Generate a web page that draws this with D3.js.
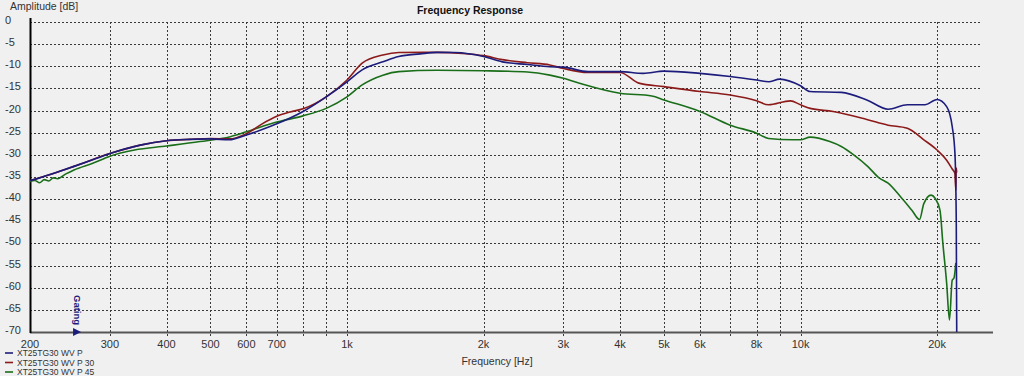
<!DOCTYPE html>
<html>
<head>
<meta charset="utf-8">
<script src="https://cdn.jsdelivr.net/npm/d3@7"></script>
<style>
body{margin:0;background:#f0f0f0;font-family:"Liberation Sans",Arial,sans-serif;}
svg{display:block}
</style>
</head>
<body>
<div id="container"></div>
<script>
// measured curves (Hz / dB)
var blueHz = [200,210,225,250,275,300,350,400,450,500,550,600,650,700,800,900,1000,1080,1200,1300,1450,1580,1730,2000,2200,2500,2800,3000,3400,4000,4500,5000,6000,7000,8000,8500,9000,10000,10500,12300,14000,15600,17200,18800,20000,21000,21600,21900,22050,22100]
var blueDb = [-35.8,-35.2,-34.2,-32.6,-31.1,-29.7,-27.8,-26.8,-26.5,-26.4,-26.6,-25.5,-24.3,-23,-20.2,-16.9,-13.5,-10.8,-9,-7.8,-7.2,-6.85,-6.9,-7.8,-9,-9.6,-10.1,-10.2,-11.2,-11.2,-11.6,-11.1,-11.6,-12.3,-13.1,-13.5,-12.9,-14.4,-15.7,-15.9,-17.6,-19.7,-18.7,-18.7,-17.5,-19.1,-23.6,-29.6,-45,-70]

var redHz = [200,225,250,300,350,400,450,500,550,600,650,700,750,800,900,1000,1080,1200,1300,1580,1800,2000,2200,2500,2800,3000,3400,4000,4400,5000,6000,7000,8000,8500,9500,10000,10500,11800,14000,15600,17200,18700,20000,21000,21600,21900,22000,22050,22100]
var redDb = [-35.8,-34.2,-32.6,-29.7,-27.8,-26.8,-26.5,-26.3,-26.4,-25.2,-23,-21.3,-20.3,-19.6,-16.9,-13.1,-9.3,-7.45,-6.9,-6.85,-7.1,-7.6,-8.5,-9.2,-9.7,-10.5,-11.4,-11.4,-13.8,-14.6,-15.7,-16.5,-17.8,-18.7,-17.8,-18.7,-19.5,-20.2,-22,-23.3,-24,-26.6,-28.9,-31.2,-33.2,-34.2,-38,-33,-34]

var greenHz = [200,205,210,215,220,225,230,240,250,275,300,340,400,474,553,600,700,800,900,1000,1080,1200,1300,1580,2000,2500,2800,3000,3300,4000,4700,5000,6000,7000,8000,8500,9600,10000,10500,11600,12300,13100,14100,14900,15600,16600,17600,18300,18700,19400,19800,20300,20600,21000,21300,21600,21800,22000]
var greenDb = [-36,-35.8,-36.3,-35.6,-35.9,-35.2,-35.4,-34.3,-33.4,-31.9,-30.3,-28.9,-28,-27,-25.9,-24.8,-22.6,-21.2,-19.5,-16.9,-14.2,-12,-11.2,-10.9,-11,-11.3,-12,-12.7,-14,-16.1,-16.7,-17.6,-20.2,-23.3,-25.1,-26.3,-26.6,-26.6,-26,-27,-28.1,-30,-32.7,-35.2,-36.4,-39.4,-42.5,-44.6,-41,-39.1,-39.8,-42.5,-50,-59,-67.3,-58.3,-57.8,-54.4]

var seriesNames = ["XT25TG30 WV P","XT25TG30 WV P 30","XT25TG30 WV P 45"]
var seriesColors = ["#1c1c7c","#8c1a1a","#1a6e1a"]

var yTicks = [0,-5,-10,-15,-20,-25,-30,-35,-40,-45,-50,-55,-60,-65,-70]
var xGrid = [300,400,500,600,700,800,900,1000,2000,3000,4000,5000,6000,7000,8000,9000,10000,20000]
var xLabels = {200:"200",300:"300",400:"400",500:"500",600:"600",700:"700",1000:"1k",2000:"2k",3000:"3k",4000:"4k",5000:"5k",6000:"6k",8000:"8k",10000:"10k",20000:"20k"}
var gatingHz = 254

var svg = d3.select("#container").append("svg").attr("width",1024).attr("height",376)

var xScale = d3.scaleLog().domain([200,25000]).range([30,981])
var yScale = d3.scaleLinear().domain([-70,0]).range([332,22])

// horizontal grid
svg.selectAll(".hgrid")
  .data(yTicks.filter(function(d){return d>-70}))
  .enter().append("line")
  .attr("x1",30).attr("x2",980)
  .attr("y1",function(d){return Math.round(yScale(d))+0.5})
  .attr("y2",function(d){return Math.round(yScale(d))+0.5})
  .attr("stroke","#3a3a3a").attr("stroke-dasharray","2,2")

// vertical grid
svg.selectAll(".vgrid")
  .data(xGrid)
  .enter().append("line")
  .attr("x1",function(d){return Math.round(xScale(d))+0.5})
  .attr("x2",function(d){return Math.round(xScale(d))+0.5})
  .attr("y1",22).attr("y2",338)
  .attr("stroke","#3a3a3a").attr("stroke-dasharray","2,2")

// y labels
svg.selectAll(".ylab")
  .data(yTicks)
  .enter().append("text")
  .attr("x",5).attr("y",function(d){return yScale(d)+2})
  .attr("font-size","11px").attr("fill","#333")
  .text(function(d){return d})

// x labels
svg.selectAll(".xlab")
  .data(Object.keys(xLabels))
  .enter().append("text")
  .attr("x",function(d){return xScale(+d)}).attr("y",348)
  .attr("text-anchor","middle")
  .attr("font-size","11px").attr("fill","#333")
  .text(function(d){return xLabels[d]})

// axes
svg.append("line").attr("x1",30).attr("x2",993).attr("y1",332.5).attr("y2",332.5)
  .attr("stroke","#555").attr("stroke-width",2)
svg.append("line").attr("x1",30.5).attr("x2",30.5).attr("y1",18).attr("y2",333)
  .attr("stroke","#000").attr("stroke-width",2)

// curves
var line = d3.line().curve(d3.curveMonotoneX)
  .x(function(d){return xScale(d[0])})
  .y(function(d){return yScale(d[1])})

var curves = [d3.zip(blueHz,blueDb), d3.zip(redHz,redDb), d3.zip(greenHz,greenDb)]
;[2,1,0].forEach(function(i){
  svg.append("path")
    .attr("d",line(curves[i]))
    .attr("fill","none")
    .attr("stroke",seriesColors[i])
    .attr("stroke-width",1.6)
    .attr("stroke-linejoin","round")
})

// gating marker
var gx = xScale(gatingHz)
svg.append("text")
  .attr("transform","translate("+(gx-3.5)+",295) rotate(90)")
  .attr("font-size","9.5px").attr("font-weight","bold").attr("fill","#1c1c7c")
  .text("Gating")
svg.append("path")
  .attr("d","M"+(gx-4)+",328 L"+(gx+4)+",332 L"+(gx-4)+",336 Z")
  .attr("fill","#1c1c7c")

// titles
svg.append("text").attr("x",470).attr("y",14).attr("text-anchor","middle")
  .attr("font-size","10.5px").attr("font-weight","bold").attr("fill","#111")
  .text("Frequency Response")
svg.append("text").attr("x",10).attr("y",10)
  .attr("font-size","10.5px").attr("fill","#333")
  .text("Amplitude [dB]")
svg.append("text").attr("x",497).attr("y",365).attr("text-anchor","middle")
  .attr("font-size","10.5px").attr("fill","#333")
  .text("Frequency [Hz]")

// legend
seriesNames.forEach(function(n,i){
  var y = 353+i*9.5
  svg.append("line").attr("x1",5).attr("x2",13).attr("y1",y).attr("y2",y)
    .attr("stroke",seriesColors[i]).attr("stroke-width",1.6)
  svg.append("text").attr("x",17).attr("y",y+3)
    .attr("font-size","8.5px").attr("fill","#333")
    .text(n)
})
</script>
</body>
</html>
